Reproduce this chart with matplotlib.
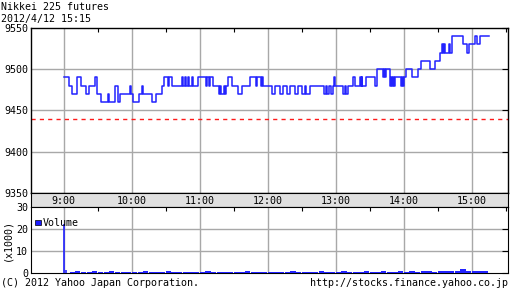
import numpy as np
import matplotlib.pyplot as plt
from matplotlib.patches import Rectangle

# price change points: minutes after 9:00, price
price_min = [0, 4.4, 7.3, 11.2, 14.7, 19.4, 22.3, 27.4, 28.9, 29.6, 32.4, 38.8, 40.1, 45.0, 47.9, 49.4,
             58.2, 59.6, 61.1, 66.2, 69.1, 70.0, 77.4, 81.2, 86.7, 88.5, 91.5, 92.6, 95.6, 103.9, 105.0,
             106.8, 107.6, 109.7, 110.6, 113.2, 114.1, 118.0, 125.3, 126.2, 128.2, 129.1, 131.7, 136.8,
             138.1, 139.0, 141.2, 142.1, 142.7, 145.0, 148.5, 153.3, 156.8, 164.1, 169.4, 170.3, 174.4,
             175.3, 175.9, 184.1, 186.2, 190.6, 193.5, 197.0, 200.0, 203.8, 206.7, 210.3, 212.6, 214.1,
             217.1, 229.4, 231.2, 232.3, 234.1, 235.6, 237.6, 238.2, 239.4, 246.4, 247.9, 249.4, 250.9,
             255.3, 257.4, 261.2, 262.1, 262.7, 263.4, 267.1, 274.4, 276.4, 281.7, 282.8, 283.5, 284.1,
             287.6, 288.5, 289.4, 290.3, 291.2, 292.1, 297.9, 298.7, 299.4, 300.2, 302.4, 307.5, 312.6,
             315.6, 322.9, 327.4, 332.4, 333.8, 334.7, 335.6, 336.8, 340.0, 341.2, 342.6, 352.3, 355.8,
             357.6, 362.6, 364.6, 367.1, 375.3]
price_val = [9490, 9480, 9470, 9490, 9480, 9470, 9480, 9490, 9480, 9470, 9460, 9470, 9460, 9480, 9460, 9470,
             9480, 9470, 9460, 9470, 9480, 9470, 9460, 9470, 9480, 9490, 9480, 9490, 9480, 9490, 9480,
             9490, 9480, 9490, 9480, 9490, 9480, 9490, 9480, 9490, 9480, 9490, 9480, 9470,
             9480, 9470, 9480, 9470, 9480, 9490, 9480, 9470, 9480, 9490, 9480, 9490, 9480,
             9490, 9480, 9470, 9480, 9470, 9480, 9470, 9480, 9470, 9480, 9470, 9480, 9470,
             9480, 9470, 9480, 9470, 9480, 9470, 9480, 9490, 9480, 9470, 9480, 9470, 9480,
             9490, 9480, 9490, 9480, 9490, 9480, 9490, 9480, 9500, 9490, 9500, 9490, 9500,
             9480, 9490, 9480, 9490, 9480, 9490, 9480, 9490, 9480, 9490, 9500, 9490, 9500,
             9510, 9500, 9510, 9520, 9530, 9520, 9530, 9520, 9530, 9520, 9540, 9530, 9520,
             9530, 9540, 9530, 9540, 9540]
prev_close = 9440

hour_ticks = [0, 60, 120, 180, 240, 300, 360]
hour_labels = ['9:00', '10:00', '11:00', '12:00', '13:00', '14:00', '15:00']

# volume (x1000): opening spike, then 5-minute blocks
vol_open = [22.5, 1.3]
vol_blocks = [0.6, 0.7, 0.6, 0.6, 0.7, 0.6, 0.6, 0.7, 0.6, 0.6, 0.5, 0.6, 0.6, 0.7, 0.6, 0.6,
              0.6, 0.7, 0.6, 0.6, 0.5, 0.6, 0.6, 0.6, 0.7, 0.6, 0.6, 0.6, 0.5, 0.6, 0.6, 0.7,
              0.6, 0.6, 0.6, 0.5, 0.6, 0.6, 0.6, 0.7, 0.6, 0.6, 0.6, 0.6, 0.7, 0.6, 0.6, 0.6,
              0.7, 0.6, 0.6, 0.6, 0.7, 0.6, 0.6, 0.7, 0.6, 0.6, 0.7, 0.6, 0.7, 0.6, 0.7, 0.8,
              0.6, 0.7, 0.8, 0.7, 0.9, 1.6, 0.8, 1.0, 0.7, 1.1]

W, H = 512, 301
fig = plt.figure(figsize=(5.12, 3.01), dpi=100)
plt.rcParams['font.family'] = 'DejaVu Sans Mono'
FS = 7.2
XL = (-29, 392)
L, R = 31 / W, (508 - 31) / W

def box(top, bottom):
    return [L, 1 - bottom / H, R, (bottom - top) / H]

gcol = '#a8a8a8'
blue = '#2222ff'

# price panel
ax1 = fig.add_axes(box(28, 193))
ax1.set_xlim(*XL)
ax1.set_ylim(9350, 9550)
for t in hour_ticks:
    ax1.axvline(t, color=gcol, lw=1, zorder=1)
for y in [9400, 9450, 9500]:
    ax1.axhline(y, color=gcol, lw=1, zorder=1)
ax1.step(price_min, price_val, where='post', color=blue, lw=1.1, zorder=3)
ax1.axhline(prev_close, color='#ff1a1a', lw=1, ls=(0, (3, 3)), zorder=2)
ax1.set_yticks([9350, 9400, 9450, 9500, 9550])
ax1.set_yticklabels(['9350', '9400', '9450', '9500', '9550'], fontsize=FS)
ax1.tick_params(axis='y', left=False, right=True, direction='in', length=4, pad=2)
ax1.set_xticks([t + 30 for t in [-60] + hour_ticks if -29 < t + 30 < 392])
ax1.tick_params(axis='x', top=True, bottom=False, direction='in', length=3, labelbottom=False)
for s in ax1.spines.values():
    s.set_linewidth(1)

# time label band
band = fig.add_axes(box(193, 207))
band.set_facecolor('#e0e0e0')
band.set_xlim(*XL)
band.set_ylim(0, 1)
band.set_xticks([])
band.set_yticks([])
for t, lab in zip(hour_ticks, hour_labels):
    band.text(t, 0.45, lab, ha='center', va='center', fontsize=FS)

# volume panel
ax2 = fig.add_axes(box(207, 273))
ax2.set_xlim(*XL)
ax2.set_ylim(0, 30)
for t in hour_ticks:
    ax2.axvline(t, color=gcol, lw=1, zorder=1)
for y in [10, 20]:
    ax2.axhline(y, color=gcol, lw=1, zorder=1)
ax2.vlines([0, 1.5], 0, vol_open, color=blue, lw=1.2, zorder=3)
vx = [5 + 5 * i for i in range(len(vol_blocks))]
ax2.bar(vx, vol_blocks, width=4.6, align='edge', color=blue, lw=0, zorder=3)
ax2.set_yticks([0, 10, 20, 30])
ax2.set_yticklabels(['0', '10', '20', '30'], fontsize=FS)
ax2.tick_params(axis='y', left=False, right=True, direction='in', length=4, pad=2)
ax2.set_xticks([t + 30 for t in [-60] + hour_ticks if -29 < t + 30 < 392])
ax2.tick_params(axis='x', top=True, bottom=False, direction='in', length=3, labelbottom=False)
ax2.add_patch(Rectangle((0.009, 0.72), 0.011, 0.09, transform=ax2.transAxes,
                        color='#1a1aff', ec='black', lw=0.5, zorder=5))
ax2.text(0.025, 0.765, 'Volume', transform=ax2.transAxes, fontsize=FS, va='center')

fig.text(7 / W, 1 - 240 / H, '(x1000)', rotation=90, ha='center', va='center', fontsize=FS)
fig.text(1 / W, 1 - 7 / H, 'Nikkei 225 futures', fontsize=FS, va='center')
fig.text(1 / W, 1 - 19 / H, '2012/4/12 15:15', fontsize=FS, va='center')
fig.text(1 / W, 1 - 283 / H, '(C) 2012 Yahoo Japan Corporation.', fontsize=FS, va='center')
fig.text(508 / W, 1 - 283 / H, 'http://stocks.finance.yahoo.co.jp', fontsize=FS, va='center', ha='right')

fig.savefig('out.png', dpi=100)
